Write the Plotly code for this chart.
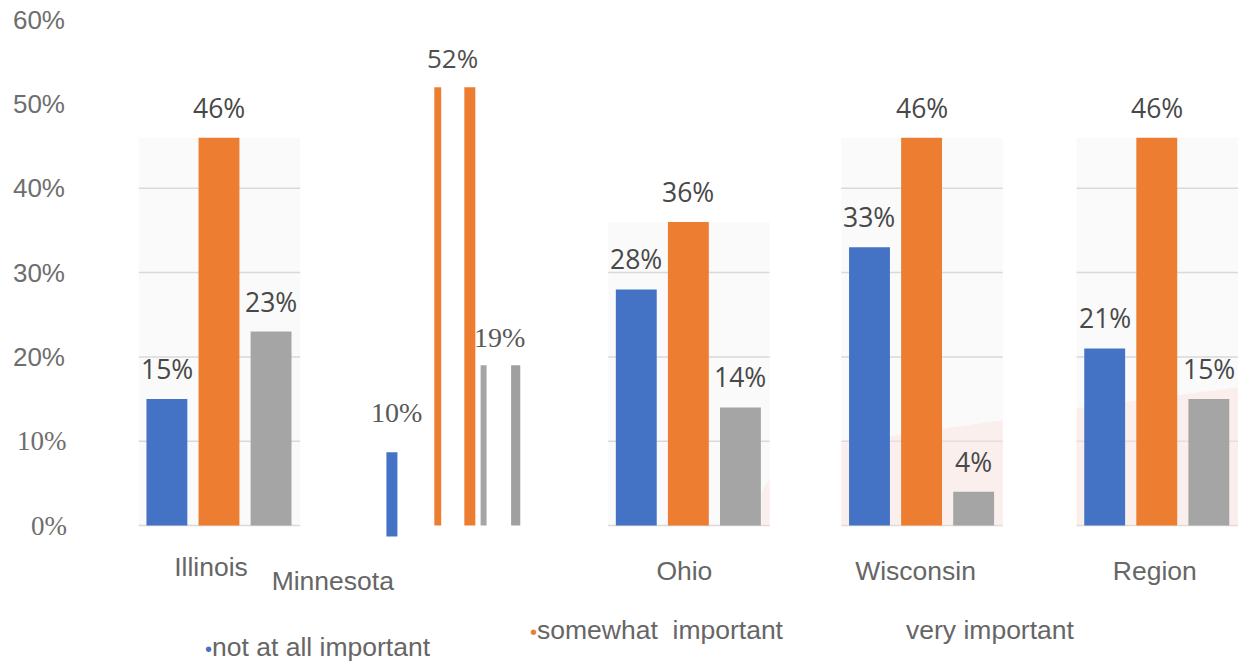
import plotly.graph_objects as go

# ---------------- data ----------------
categories = ["Illinois", "Minnesota", "Ohio", "Wisconsin", "Region"]
series = ["not at all important", "somewhat important", "very important"]
not_at_all = [15, 10, 28, 33, 21]
somewhat = [46, 52, 36, 46, 46]
very = [23, 19, 14, 4, 15]
y_ticks = [0, 10, 20, 30, 40, 50, 60]
y_tick_labels = ["0%", "10%", "20%", "30%", "40%", "50%", "60%"]

# ---------------- styling ----------------
colors = ["#4472c4", "#ed7d31", "#a5a5a5"]
W, H = 1241, 663
ML, MR, MT, MB = 70, 0, 5, 115
PW = W - ML - MR
PH = H - MT - MB
Y0PX = 525.5
PXPER = 8.43
ymax = (Y0PX - MT) / PXPER
ymin = -((H - MB) - Y0PX) / PXPER

def dom(a, b):
    return [(a - ML) / PW, (b - ML) / PW]

def pxx(x):
    return (x - ML) / PW

def pxy(y):
    return ((H - MB) - y) / PH

panel_px = {
    "Illinois": (135, 297),
    "Minnesota": (343, 573),
    "Ohio": (606, 768),
    "Wisconsin": (840, 1002),
    "Region": (1076, 1238),
}
label_standoff = {"Illinois": 0, "Minnesota": 14, "Ohio": 4, "Wisconsin": 4, "Region": 4}
label_shift = {"Illinois": -8, "Minnesota": -105, "Ohio": -4, "Wisconsin": -6, "Region": -2}

SANS = "Liberation Sans, Arial, sans-serif"
SERIF = "Liberation Serif, Times New Roman, serif"
LBL = "Open Sans, Liberation Sans, sans-serif"

fig = go.Figure()
annotations = []
shapes = []
layout_axes = {}

for k, cat in enumerate(categories, start=1):
    xa = "x" if k == 1 else f"x{k}"
    xkey = "xaxis" if k == 1 else f"xaxis{k}"
    vals = [not_at_all[k - 1], somewhat[k - 1], very[k - 1]]
    a, b = panel_px[cat]

    if cat == "Minnesota":
        base = [-1.3, 0, 0]
        fig.add_trace(go.Bar(
            x=[0, 1, 2], y=vals, base=base, width=[0.24, 0.15, 0.13],
            marker=dict(color=colors, line=dict(width=0)),
            xaxis=xa, yaxis="y", showlegend=False, name=cat,
            hovertext=series, hoverinfo="text+y",
        ))
        # doubled (echo) bars of the pasted image
        fig.add_trace(go.Bar(
            x=[1 + 0.7, 2 + 0.7], y=vals[1:], width=[0.24, 0.2],
            marker=dict(color=[colors[1], "#a0a0a0"], line=dict(width=0)),
            xaxis=xa, yaxis="y", showlegend=False, name=cat,
            hoverinfo="skip",
        ))
        layout_axes[xkey] = dict(
            domain=dom(a, b), range=[-1, 4], anchor="y",
            showgrid=False, zeroline=False, showline=False, ticks="",
            tickvals=[1], ticktext=[cat],
            tickfont=dict(family=SANS, size=26.5, color="#666666"),
            ticklabelstandoff=label_standoff[cat], ticklabelshift=label_shift[cat],
        )
        annotations.append(dict(x=0, y=base[0] + vals[0], xref=xa, yref="y",
                                text=f"{vals[0]}%", showarrow=False,
                                xshift=5, yshift=40,
                                font=dict(family=SERIF, size=28, color="#595959")))
        annotations.append(dict(x=1, y=vals[1], xref=xa, yref="y",
                                text=f"{vals[1]}%", showarrow=False,
                                xshift=15, yshift=29,
                                font=dict(family=LBL, size=26, color="#505050")))
        annotations.append(dict(x=2, y=vals[2], xref=xa, yref="y",
                                text=f"{vals[2]}%", showarrow=False,
                                xshift=16, yshift=28,
                                font=dict(family=SERIF, size=28, color="#595959")))
        continue

    fig.add_trace(go.Bar(
        x=[0, 1, 2], y=vals, width=0.785,
        marker=dict(color=colors, line=dict(width=0)),
        xaxis=xa, yaxis="y", showlegend=False, name=cat,
        hovertext=series, hoverinfo="text+y",
    ))
    layout_axes[xkey] = dict(
        domain=dom(a, b), range=[-0.54, 2.56], anchor="y",
        showgrid=False, zeroline=False, showline=False, ticks="",
        tickvals=[1], ticktext=[cat],
        tickfont=dict(family=SANS, size=26.5, color="#666666"),
        ticklabelstandoff=label_standoff[cat], ticklabelshift=label_shift[cat],
    )
    top = max(vals)
    dref = f"{xa} domain"
    shapes.append(dict(type="rect", xref=dref, yref="y", x0=0, x1=1, y0=0, y1=top,
                       fillcolor="#fafafa", line=dict(width=0), layer="below"))
    for t in y_ticks:
        if t <= top:
            shapes.append(dict(type="line", xref=dref, yref="y", x0=0, x1=1, y0=t, y1=t,
                               line=dict(color="#d9d9d9", width=1.5), layer="below"))
    for i, v in enumerate(vals):
        annotations.append(dict(x=i, y=v, xref=xa, yref="y", text=f"{v}%",
                                showarrow=False, yshift=30,
                                font=dict(family=LBL, size=26.5, color="#484848")))

# faint pink tints from the pasted screenshots
pink = "rgba(250,226,220,0.45)"
shapes.append(dict(type="path", xref="x4 domain", yref="y",
                   path="M 0,0 L 0,9.8 L 1,12.5 L 1,0 Z",
                   fillcolor=pink, line=dict(width=0), layer="below"))
shapes.append(dict(type="path", xref="x5 domain", yref="y",
                   path="M 0,0 L 0,13.9 L 1,16.4 L 1,0 Z",
                   fillcolor=pink, line=dict(width=0), layer="below"))
shapes.append(dict(type="path", xref="x3 domain", yref="y",
                   path="M 0.95,0 L 0.95,4 L 1,5.5 L 1,0 Z",
                   fillcolor=pink, line=dict(width=0), layer="below"))

# y tick labels: upper ones sans on the axis, lower ones serif (pasted) as labels
upper_vals = [v for v in y_ticks if v > 10]
upper_text = [t for v, t in zip(y_ticks, y_tick_labels) if v > 10]
for v, t in zip(y_ticks, y_tick_labels):
    if v <= 10:
        annotations.append(dict(x=0, y=v, xref="paper", yref="y", text=t,
                                xanchor="right", yanchor="middle", xshift=-5,
                                showarrow=False,
                                font=dict(family=SERIF, size=27, color="#6e6e6e")))

# legend as text items
legend_items = [
    (series[0], colors[0], 199, 647),
    ("somewhat\u00a0\u00a0important", colors[1], 526, 630),
    (series[2], None, 903, 630),
]
for text, col, lx, ly in legend_items:
    if col:
        txt = f"<span style='color:{col};font-size:20px'>\u2022</span>{text}"
    else:
        txt = text
    annotations.append(dict(x=pxx(lx), y=pxy(ly), xref="paper", yref="paper",
                            xanchor="left", yanchor="middle", showarrow=False,
                            text=txt,
                            font=dict(family=SANS, size=26.5, color="#666666")))

fig.update_layout(
    width=W, height=H,
    margin=dict(l=ML, r=MR, t=MT, b=MB),
    paper_bgcolor="white", plot_bgcolor="white",
    barmode="overlay",
    yaxis=dict(range=[ymin, ymax], anchor="free", position=0,
               tickvals=upper_vals, ticktext=upper_text,
               showgrid=False, zeroline=False, showline=False, ticks="",
               ticklabelstandoff=9,
               tickfont=dict(family=SANS, size=26, color="#6e6e6e")),
    annotations=annotations,
    shapes=shapes,
    **layout_axes,
)

fig.write_html("out.html")
